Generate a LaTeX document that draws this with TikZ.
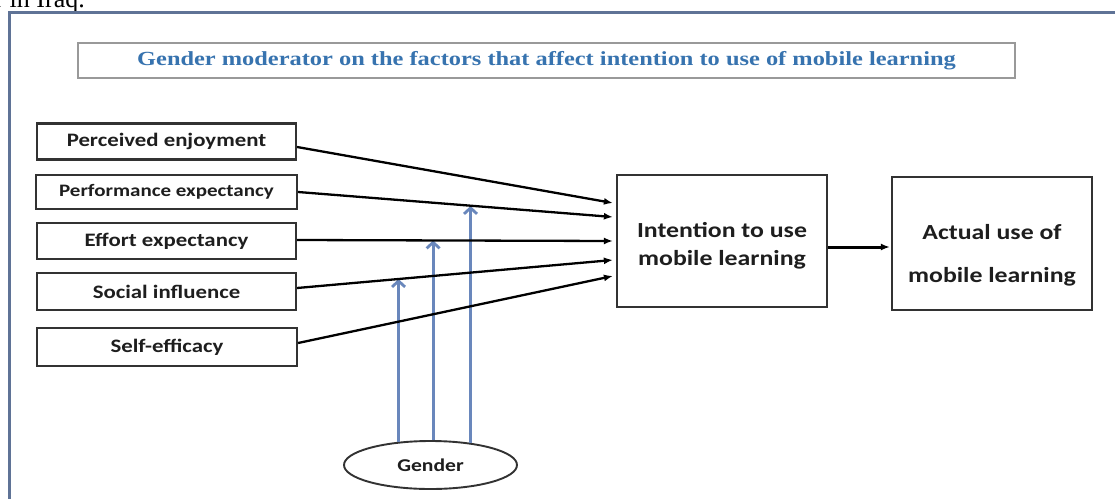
\documentclass[tikz,border=0pt]{standalone}
\usepackage{fontspec}
\usetikzlibrary{arrows.meta,shapes.geometric,calc}
\newfontfamily\boxfont{Carlito}[FakeStretch=1.2]
\newfontfamily\titlefont{Liberation Serif}[FakeStretch=1.22]
\newfontfamily\capfont{Liberation Serif}
\definecolor{frameblue}{RGB}{95,115,150}
\definecolor{titleblue}{RGB}{55,115,175}
\definecolor{modblue}{RGB}{105,135,188}
\definecolor{boxline}{RGB}{50,50,50}
\definecolor{txtgray}{RGB}{30,30,30}
\begin{document}
\begin{tikzpicture}[x=1pt,y=-1pt,
  factor/.style={draw=boxline, line width=2.2pt, rectangle, inner sep=0pt,
    text=txtgray, font=\boxfont\bfseries\fontsize{19}{22}\selectfont,
    minimum width=259pt, minimum height=36pt},
  bigbox/.style={draw=boxline, line width=2.2pt, rectangle, inner sep=0pt},
  bigtxt/.style={text=txtgray, align=center, inner sep=0pt},
  gend/.style={draw=boxline, line width=1.9pt, ellipse, inner sep=0pt,
    minimum width=173pt, minimum height=48pt, text=txtgray,
    font=\boxfont\bfseries\fontsize{18}{22}\selectfont},
  titlebox/.style={draw=black!40, line width=1.6pt, rectangle, inner sep=0pt,
    minimum width=937pt, minimum height=35pt, text=titleblue,
    font=\titlefont\bfseries\fontsize{20}{24}\selectfont},
  blk/.style={draw=black, line width=2.3pt, -{Latex[length=9pt,width=7pt]}},
  mod/.style={draw=modblue, line width=2.8pt, -{Straight Barb[length=6pt,width=13pt]}}
]
\useasboundingbox (0,0) rectangle (1115,498);
\clip (0,0) rectangle (1115,498);
\fill[white] (0,0) rectangle (1115,498);

% caption fragment and frame
\node[anchor=base east, inner sep=0pt, font=\capfont\fontsize{26}{30}\selectfont] (cap) at (85,7.5) {r in Iraq.};
\draw[frameblue, line width=2.8pt] (9.8,12.3) rectangle (1140,530);

% title
\node[titlebox] (title) at (546.5,60.5) {Gender moderator on the factors that affect intention to use of mobile learning};

% factors
\node[factor] (pe) at (166.5,141.5) {Perceived enjoyment};
\node[factor, minimum width=261pt, minimum height=34pt,
      font=\boxfont\bfseries\fontsize{17.5}{20}\selectfont] (px) at (166.5,192) {Performance expectancy};
\node[factor] (ee) at (166.5,241) {Effort expectancy};
\node[factor, minimum height=37pt] (si) at (166.5,291.5) {Social influence};
\node[factor, minimum width=260pt, minimum height=38pt] (se) at (167,347) {Self-efficacy};

% outcome boxes
\node[bigbox, minimum width=210pt, minimum height=132pt] (int) at (722,241) {};
\node[bigtxt, font=\boxfont\bfseries\fontsize{21.5}{28}\selectfont] (inttxt) at ($(int.center)+(0,5)$) {Intention to use\\mobile learning};
\node[bigbox, minimum width=200pt, minimum height=133pt] (act) at (992,243.5) {};
\node[bigtxt, font=\boxfont\bfseries\fontsize{21.5}{43}\selectfont] (acttxt) at ($(act.center)+(0,12)$) {Actual use of\\mobile learning};

% gender
\node[gend] (g) at (430.5,465) {Gender};

% connector end points
\coordinate (pe-o) at ($(pe.east)+(0,5.5)$);
\coordinate (pe-i) at ($(int.west)+(-3,-38)$);
\coordinate (px-o) at (px.east);
\coordinate (px-i) at ($(int.west)+(-3,-24)$);
\coordinate (ee-o) at ($(ee.east)+(0,-1)$);
\coordinate (ee-i) at ($(int.west)+(-3,0)$);
\coordinate (si-o) at ($(si.east)+(0,-3.5)$);
\coordinate (si-i) at ($(int.west)+(-3,19)$);
\coordinate (se-o) at ($(se.east)+(0,-4)$);
\coordinate (se-i) at ($(int.west)+(-3,35)$);

\path (si-o) -- coordinate[pos=0.32] (m1) (si-i);
\path (ee-o) -- coordinate[pos=0.43] (m2) (ee-i);
\path (px-o) -- coordinate[pos=0.56] (m3) (px-i);

% moderator arrows
\draw[mod] (g.144.5) -- (g.144.5 |- m1);
\draw[mod] (g.84) -- (g.84 |- m2);
\draw[mod] (g.29.45) -- (g.29.45 |- m3);

% factor arrows
\draw[blk] (pe-o) -- (pe-i);
\draw[blk] (px-o) -- (px-i);
\draw[blk] (ee-o) -- (ee-i);
\draw[blk] (si-o) -- (si-i);
\draw[blk] (se-o) -- (se-i);

\draw[blk, line width=3pt] ($(int.east)+(0,6)$) -- ($(act.west)+(-1,3.5)$);
\end{tikzpicture}
\end{document}
